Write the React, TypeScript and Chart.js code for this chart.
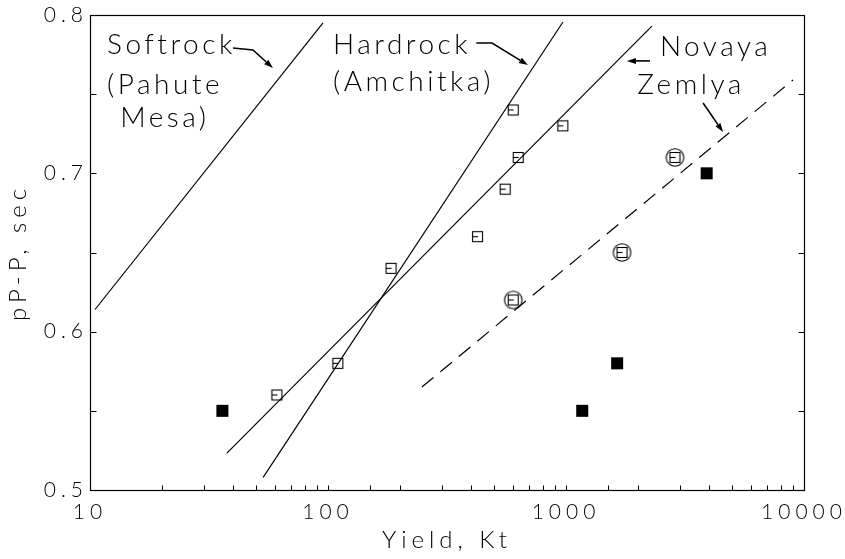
import { useEffect, useRef } from "react";
import { Chart, registerables } from "chart.js";

Chart.register(...registerables);

// Yield (kt) and pP-P delay (s) for each group of events
const openYield = [61, 110, 184, 425, 555, 600, 630, 970];
const openDelay = [0.56, 0.58, 0.64, 0.66, 0.69, 0.74, 0.71, 0.73];
const circledYield = [600, 1720, 2870];
const circledDelay = [0.62, 0.65, 0.71];
const filledYield = [36, 1170, 1640, 3900];
const filledDelay = [0.55, 0.55, 0.58, 0.7];

// Trend lines, given by their two end points
const softrockYield = [10.5, 95.3];
const softrockDelay = [0.614, 0.795];
const hardrockSteepYield = [53.4, 971];
const hardrockSteepDelay = [0.508, 0.7956];
const hardrockYield = [37.6, 2296];
const hardrockDelay = [0.5233, 0.793];
const novayaYield = [248, 8995];
const novayaDelay = [0.565, 0.759];

// Labelled ticks
const xMajorValues = [10, 100, 1000, 10000];
const xMajorLabels = ["10", "100", "1000", "10000"];
const yMajorValues = [0.5, 0.6, 0.7, 0.8];
const yMajorLabels = ["0.5", "0.6", "0.7", "0.8"];

// Curve names and their pointer arrows, anchored in data coordinates
const noteTexts = ["Softrock", "(Pahute", "Mesa)", "Hardrock", "(Amchitka)", "Novaya", "Zemlya"];
const noteYield = [11.8, 11.8, 13.4, 105, 105, 2480, 1990];
const noteDelay = [0.781, 0.7558, 0.735, 0.781, 0.7577, 0.7798, 0.7558];
const pointerPaths: [number, number][][] = [
  [[39.9, 0.7792], [48.4, 0.7779], [58.7, 0.7665]],
  [[420, 0.7823], [489, 0.7823], [692, 0.7684]],
  [[2254, 0.771], [1803, 0.771]],
  [[3767, 0.7444], [4571, 0.7261]],
];

const FONT = "Lato, 'Open Sans', 'DejaVu Sans', sans-serif";
const INK = "#000";

const pairs = (xs: number[], ys: number[]) => xs.map((x, i) => ({ x, y: ys[i] }));

function squareMarker(circled: boolean): HTMLCanvasElement {
  const size = circled ? 21 : 13;
  const c = document.createElement("canvas");
  c.width = size;
  c.height = size;
  const g = c.getContext("2d")!;
  const m = size / 2;
  const h = 5;
  g.strokeStyle = INK;
  g.lineWidth = 1.1;
  g.strokeRect(m - h, m - h, 2 * h, 2 * h);
  g.beginPath();
  g.moveTo(m - h, m);
  g.lineTo(m + 0.5, m);
  g.stroke();
  if (circled) {
    g.beginPath();
    g.arc(m, m, 8.8, 0, Math.PI * 2);
    g.stroke();
  }
  return c;
}

const scaleText = {
  id: "scaleText",
  beforeDraw(chart: any) {
    chart.ctx.letterSpacing = "5px";
  },
  beforeDatasetsDraw(chart: any) {
    chart.ctx.letterSpacing = "0px";
  },
};

const frameAndTicks = {
  id: "frameAndTicks",
  afterDatasetsDraw(chart: any) {
    const { ctx, chartArea: a, scales } = chart;
    const L = Math.round(a.left) + 0.5;
    const R = Math.round(a.right) + 0.5;
    const T = Math.round(a.top) + 0.5;
    const B = Math.round(a.bottom) + 0.5;
    ctx.save();
    ctx.strokeStyle = INK;
    ctx.lineWidth = 1.2;
    ctx.strokeRect(L, T, R - L, B - T);
    ctx.lineWidth = 1;
    ctx.beginPath();
    for (const t of scales.x.ticks) {
      const px = Math.round(scales.x.getPixelForValue(t.value)) + 0.5;
      if (px <= L + 1 || px >= R - 1) continue;
      ctx.moveTo(px, B);
      ctx.lineTo(px, B - 5);
    }
    for (const t of scales.y.ticks) {
      const py = Math.round(scales.y.getPixelForValue(t.value)) + 0.5;
      if (py <= T + 1 || py >= B - 1) continue;
      ctx.moveTo(L, py);
      ctx.lineTo(L + 6, py);
      ctx.moveTo(R, py);
      ctx.lineTo(R - 6, py);
    }
    ctx.stroke();
    ctx.restore();
  },
};

const curveNotes = {
  id: "curveNotes",
  afterDraw(chart: any) {
    const { ctx, scales } = chart;
    const X = (v: number) => scales.x.getPixelForValue(v);
    const Y = (v: number) => scales.y.getPixelForValue(v);
    ctx.save();
    ctx.fillStyle = INK;
    ctx.strokeStyle = INK;
    ctx.font = `300 28px ${FONT}`;
    ctx.letterSpacing = "3.5px";
    ctx.textAlign = "left";
    ctx.textBaseline = "middle";
    noteTexts.forEach((t, i) => ctx.fillText(t, X(noteYield[i]), Y(noteDelay[i])));
    ctx.letterSpacing = "0px";
    ctx.lineWidth = 1.6;
    for (const path of pointerPaths) {
      const pts = path.map(([x, y]) => [X(x), Y(y)]);
      const [ex, ey] = pts[pts.length - 1];
      const [sx, sy] = pts[pts.length - 2];
      const ang = Math.atan2(ey - sy, ex - sx);
      const len = 9;
      const wid = 3;
      const bx = ex - len * Math.cos(ang);
      const by = ey - len * Math.sin(ang);
      ctx.beginPath();
      ctx.moveTo(pts[0][0], pts[0][1]);
      for (let k = 1; k < pts.length - 1; k++) ctx.lineTo(pts[k][0], pts[k][1]);
      ctx.lineTo(bx, by);
      ctx.stroke();
      ctx.beginPath();
      ctx.moveTo(ex, ey);
      ctx.lineTo(bx + wid * Math.sin(ang), by - wid * Math.cos(ang));
      ctx.lineTo(bx - wid * Math.sin(ang), by + wid * Math.cos(ang));
      ctx.closePath();
      ctx.fill();
    }
    ctx.restore();
  },
};

export default function App() {
  const ref = useRef<HTMLCanvasElement | null>(null);

  useEffect(() => {
    const canvas = ref.current;
    if (!canvas) return;
    const openMark = squareMarker(false);
    const circledMark = squareMarker(true);
    const line = (xs: number[], ys: number[], dash: number[] = []) => ({
      data: pairs(xs, ys),
      showLine: true,
      borderColor: INK,
      borderWidth: 1.2,
      borderDash: dash,
      pointRadius: 0,
      fill: false,
    });

    const chart = new Chart(canvas, {
      type: "scatter",
      data: {
        datasets: [
          line(softrockYield, softrockDelay),
          line(hardrockSteepYield, hardrockSteepDelay),
          line(hardrockYield, hardrockDelay),
          line(novayaYield, novayaDelay, [15, 9]),
          {
            data: pairs(openYield, openDelay),
            pointStyle: openMark,
            pointRadius: 6,
          },
          {
            data: pairs(circledYield, circledDelay),
            pointStyle: circledMark,
            pointRadius: 10,
          },
          {
            data: pairs(filledYield, filledDelay),
            pointStyle: "rect",
            pointRadius: 8.5,
            backgroundColor: INK,
            borderColor: INK,
            borderWidth: 0,
          },
        ] as any,
      },
      options: {
        responsive: false,
        animation: false,
        events: [],
        layout: { padding: { left: 0, right: 41, top: 15, bottom: 0 } },
        plugins: { legend: { display: false }, tooltip: { enabled: false } },
        scales: {
          x: {
            type: "logarithmic",
            min: 10,
            max: 10000,
            grid: { display: false, drawTicks: false },
            border: { display: false },
            afterFit: (s: any) => {
              s.height = 69;
            },
            ticks: {
              autoSkip: false,
              maxRotation: 0,
              padding: 10,
              color: INK,
              font: { family: FONT, size: 21, weight: "300" },
              callback: (v: any) => {
                const i = xMajorValues.findIndex((m) => Math.abs(Number(v) / m - 1) < 1e-6);
                return i >= 0 ? xMajorLabels[i] : "";
              },
            },
            title: {
              display: true,
              text: "Yield, Kt",
              color: INK,
              padding: { top: 0, bottom: 4 },
              font: { family: FONT, size: 24, weight: "300" },
            },
          },
          y: {
            type: "linear",
            min: 0.5,
            max: 0.8,
            grid: { display: false, drawTicks: false },
            border: { display: false },
            afterFit: (s: any) => {
              s.width = 90;
            },
            ticks: {
              stepSize: 0.05,
              autoSkip: false,
              padding: 2,
              color: INK,
              font: { family: FONT, size: 21, weight: "300" },
              callback: (v: any) => {
                const i = yMajorValues.findIndex((m) => Math.abs(Number(v) - m) < 1e-6);
                return i >= 0 ? yMajorLabels[i] : "";
              },
            },
            title: {
              display: true,
              text: "pP-P, sec",
              color: INK,
              padding: { top: 4, bottom: 0 },
              font: { family: FONT, size: 24, weight: "300" },
            },
          },
        },
      } as any,
      plugins: [scaleText, frameAndTicks, curveNotes],
    });
    return () => chart.destroy();
  }, []);

  return (
    <div style={{ position: "fixed", left: 0, top: 0, width: 845, height: 559, background: "#fff" }}>
      <canvas ref={ref} width={845} height={559} style={{ display: "block", width: 845, height: 559 }} />
    </div>
  );
}
